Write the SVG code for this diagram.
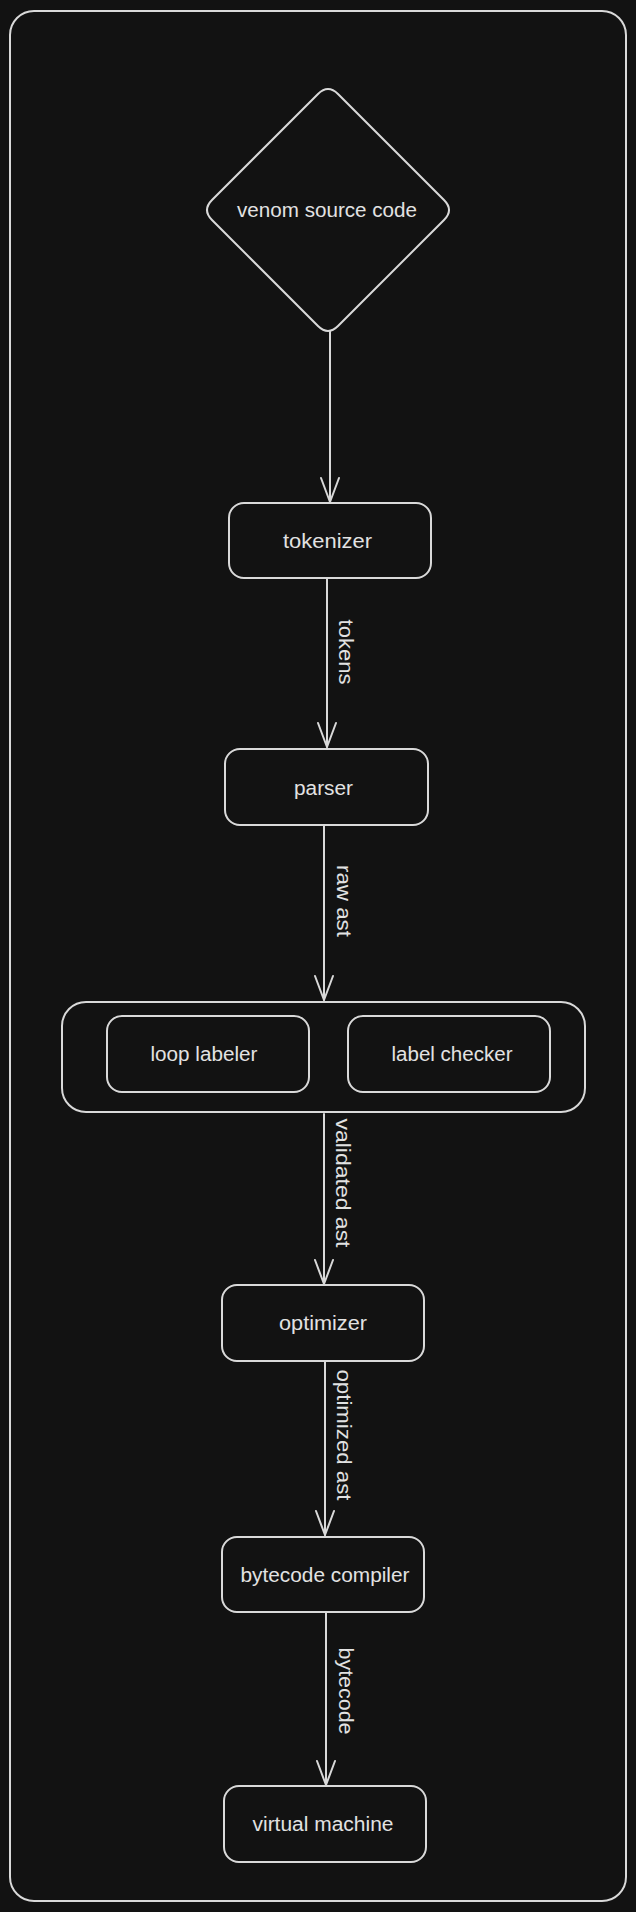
<svg xmlns="http://www.w3.org/2000/svg" width="636" height="1912" viewBox="0 0 636 1912">
<style>
.bg{fill:#121212}
.box{fill:none;stroke:#d9d9d9;stroke-width:2}
.edge{fill:none;stroke:#d9d9d9;stroke-width:2;stroke-linecap:round}
.t{font-family:"Liberation Sans",Arial,sans-serif;font-size:20px;fill:#e2e2e2;text-anchor:middle}
.lbl{font-family:"Liberation Sans",Arial,sans-serif;font-size:20px;fill:#e2e2e2;text-anchor:middle;dominant-baseline:central}
</style>
<defs>
<marker id="arr" viewBox="0 0 24 18" refX="24" refY="9" markerWidth="24" markerHeight="18" markerUnits="userSpaceOnUse" orient="auto" overflow="visible">
<path d="M0,0 L24,9 L0,18" fill="none" stroke="#d9d9d9" stroke-width="2" stroke-linecap="round" stroke-linejoin="round"/>
</marker>
</defs>
<rect class="bg" x="0" y="0" width="636" height="1912"/>
<g id="frame">
<rect class="box" x="10" y="11" width="616" height="1890" rx="24"/>
</g>
<g id="connectors">
<line class="edge" x1="330" y1="331" x2="330" y2="502" marker-end="url(#arr)"/>
<line class="edge" x1="327" y1="579" x2="327" y2="747" marker-end="url(#arr)"/>
<line class="edge" x1="324" y1="826" x2="324" y2="1000" marker-end="url(#arr)"/>
<line class="edge" x1="324" y1="1114" x2="324" y2="1284" marker-end="url(#arr)"/>
<line class="edge" x1="325" y1="1362" x2="325" y2="1535" marker-end="url(#arr)"/>
<line class="edge" x1="326" y1="1613" x2="326" y2="1785" marker-end="url(#arr)"/>
<text class="lbl" transform="translate(345.5,652) rotate(90)" textLength="65" lengthAdjust="spacingAndGlyphs">tokens</text>
<text class="lbl" transform="translate(343.5,901) rotate(90)" textLength="72" lengthAdjust="spacingAndGlyphs">raw ast</text>
<text class="lbl" transform="translate(343,1183) rotate(90)" textLength="129" lengthAdjust="spacingAndGlyphs">validated ast</text>
<text class="lbl" transform="translate(343.5,1435) rotate(90)" textLength="131" lengthAdjust="spacingAndGlyphs">optimized ast</text>
<text class="lbl" transform="translate(345.5,1691) rotate(90)" textLength="87" lengthAdjust="spacingAndGlyphs">bytecode</text>
</g>
<g id="source">
<path class="box" d="M318,94 Q328,84 338,94 L444,200 Q454,210 444,220 L338,326 Q328,336 318,326 L212,220 Q202,210 212,200 Z"/>
<text class="t" x="327" y="217" textLength="180" lengthAdjust="spacingAndGlyphs">venom source code</text>
</g>
<g id="tokenizer">
<rect class="box" x="229" y="503" width="202" height="75" rx="15"/>
<text class="t" x="327.5" y="548" textLength="89" lengthAdjust="spacingAndGlyphs">tokenizer</text>
</g>
<g id="parser">
<rect class="box" x="225" y="749" width="203" height="76" rx="15"/>
<text class="t" x="323.5" y="795" textLength="59" lengthAdjust="spacingAndGlyphs">parser</text>
</g>
<g id="validation">
<rect class="box" x="62" y="1002" width="523" height="110" rx="24"/>
</g>
<g id="loop-labeler">
<rect class="box" x="107" y="1016" width="202" height="76" rx="15"/>
<text class="t" x="204" y="1061" textLength="107" lengthAdjust="spacingAndGlyphs">loop labeler</text>
</g>
<g id="label-checker">
<rect class="box" x="348" y="1016" width="202" height="76" rx="15"/>
<text class="t" x="452" y="1061" textLength="121" lengthAdjust="spacingAndGlyphs">label checker</text>
</g>
<g id="optimizer">
<rect class="box" x="222" y="1285" width="202" height="76" rx="15"/>
<text class="t" x="323" y="1330" textLength="88" lengthAdjust="spacingAndGlyphs">optimizer</text>
</g>
<g id="bytecode-compiler">
<rect class="box" x="222" y="1537" width="202" height="75" rx="15"/>
<text class="t" x="325" y="1582" textLength="169" lengthAdjust="spacingAndGlyphs">bytecode compiler</text>
</g>
<g id="virtual-machine">
<rect class="box" x="224" y="1786" width="202" height="76" rx="15"/>
<text class="t" x="323" y="1831" textLength="141" lengthAdjust="spacingAndGlyphs">virtual machine</text>
</g>
</svg>
